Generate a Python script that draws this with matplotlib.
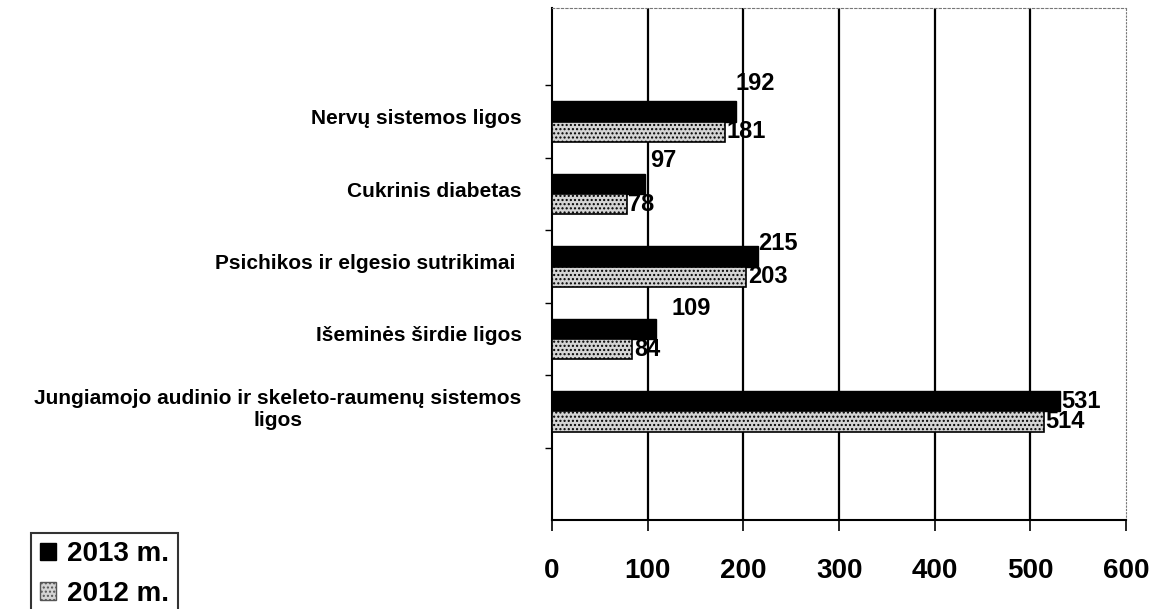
import numpy as np
import matplotlib.pyplot as plt
from matplotlib.patches import Patch

ligos = ["Nervų sistemos ligos", "Cukrinis diabetas", "Psichikos ir elgesio sutrikimai ",
         "Išeminės širdie ligos", "Jungiamojo audinio ir skeleto-raumenų sistemos\nligos"]
m2013 = [192, 97, 215, 109, 531]
m2012 = [181, 78, 203, 84, 514]
xticks = [0, 100, 200, 300, 400, 500, 600]

# label nudges for the 2013 values (points)
dx13 = [0, 4, 0, 11, 1]
dy13 = [20, 17, 9, 15, 0]

plt.rcParams['font.family'] = ['Liberation Sans', 'DejaVu Sans']
plt.rcParams['hatch.color'] = '#8a8a8a'

fig = plt.figure(figsize=(11.55, 6.09), dpi=100)
ax = fig.add_axes([0.478, 0.146, 0.497, 0.841])

y = np.arange(len(ligos))
h = 0.28
ax.barh(y - h / 2, m2013, height=h, color='black', edgecolor='black', zorder=3)
ax.barh(y + h / 2, m2012, height=h, color='#d4d4d4', edgecolor='black', hatch='....',
        linewidth=1.2, zorder=3)

for i in range(len(ligos)):
    ax.annotate(str(m2013[i]), (m2013[i], y[i] - h / 2), xytext=(dx13[i], dy13[i]),
                textcoords='offset points', ha='left', va='center',
                fontsize=17, fontweight='bold', zorder=4)
    ax.annotate(str(m2012[i]), (m2012[i], y[i] + h / 2), xytext=(1, 0),
                textcoords='offset points', ha='left', va='center',
                fontsize=17, fontweight='bold', zorder=4)

ax.set_xlim(0, 600)
ax.set_ylim(5.5, -1.57)
ax.set_xticks(xticks)
ax.set_xticklabels([str(t) for t in xticks], fontsize=20, fontweight='bold')
ax.tick_params(axis='x', length=8, width=1.2, pad=19, direction='out')

ax.set_yticks(y - 0.07)
ax.set_yticklabels(ligos, fontsize=15, fontweight='bold', multialignment='center')
ax.tick_params(axis='y', length=0, pad=22)
ax.set_yticks(np.arange(-0.5, 5.0, 1.0), minor=True)
ax.tick_params(axis='y', which='minor', length=5, width=1)

for v in xticks[1:-1]:
    ax.axvline(v, color='black', linewidth=1.6, zorder=2)

ax.spines['left'].set_linewidth(1.5)
ax.spines['bottom'].set_linewidth(1.5)
ax.spines['top'].set_linestyle((0, (2, 2)))
ax.spines['top'].set_color('#777777')
ax.spines['right'].set_linestyle((0, (1, 2)))
ax.spines['right'].set_color('#777777')

handles = [Patch(facecolor='black', edgecolor='black', label='2013 m.'),
           Patch(facecolor='#d4d4d4', edgecolor='#555555', hatch='....', label='2012 m.')]
leg = fig.legend(handles=handles, loc='upper left', bbox_to_anchor=(0.027, 0.125),
                 frameon=True, fancybox=False, edgecolor='black',
                 prop={'weight': 'bold', 'size': 20}, handlelength=0.6, handleheight=0.6,
                 handletextpad=0.4, borderpad=0.3, labelspacing=0.5, borderaxespad=0)
leg.get_frame().set_linewidth(1.5)

fig.savefig('out.png', dpi=100)
